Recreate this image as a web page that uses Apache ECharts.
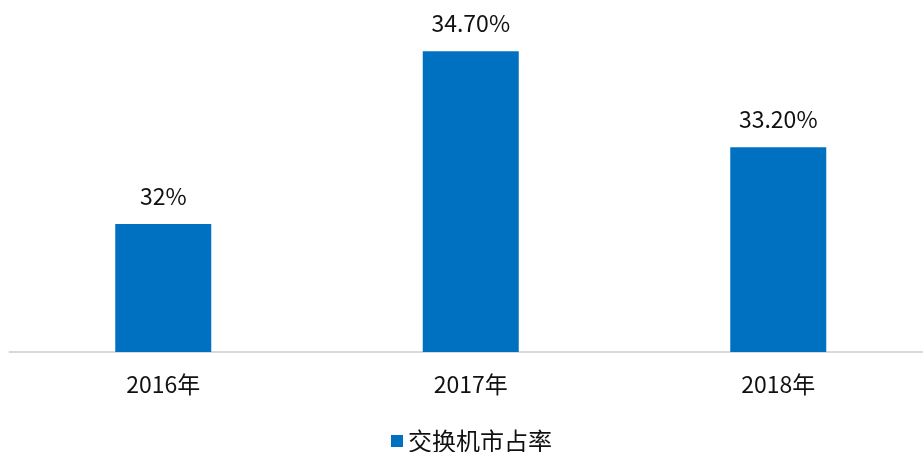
<!DOCTYPE html>
<html>
<head>
<meta charset="utf-8">
<script src="https://cdn.jsdelivr.net/npm/echarts@6/dist/echarts.min.js"></script>
<style>
  html, body { margin: 0; padding: 0; background: #fff; }
  #main { width: 923px; height: 452px; }
</style>
</head>
<body>
<div id="main"></div>
<script>
// 年份
var years = ['2016年', '2017年', '2018年']
// 交换机市占率 (%)
var shareValues = [32, 34.7, 33.2]
// 柱顶标签
var shareLabels = ['32%', '34.70%', '33.20%']

var font = "'Noto Sans CJK SC', 'Noto Sans', sans-serif"
var myChart = echarts.init(document.getElementById('main'))
myChart.setOption({
  animation: false,
  // 网格略超出画布右侧，使三个类目等宽
  grid: { left: 9.5, width: 922.5, top: 32, height: 320, outerBoundsMode: 'none', containLabel: false },
  legend: {
    data: ['交换机市占率'],
    left: 386,
    top: 424,
    itemWidth: 12,
    itemHeight: 12,
    itemGap: 6,
    icon: 'rect',
    textStyle: { fontFamily: font, fontSize: 24, color: '#111' }
  },
  xAxis: {
    type: 'category',
    data: years,
    axisLine: { lineStyle: { color: '#d9d9d9', width: 2 } },
    axisTick: { show: false },
    axisLabel: { fontFamily: font, fontSize: 23, color: '#111', margin: 21 }
  },
  yAxis: {
    type: 'value',
    min: 30,
    max: 35,
    show: false,
    splitLine: { show: false }
  },
  series: [
    {
      name: '交换机市占率',
      type: 'bar',
      data: shareValues,
      barWidth: 96,
      itemStyle: { color: '#0070c0' },
      label: {
        show: true,
        position: 'top',
        distance: 16,
        fontFamily: font,
        fontSize: 23,
        color: '#111',
        formatter: function (p) {
          return shareLabels[p.dataIndex]
        }
      }
    }
  ]
})
</script>
</body>
</html>
